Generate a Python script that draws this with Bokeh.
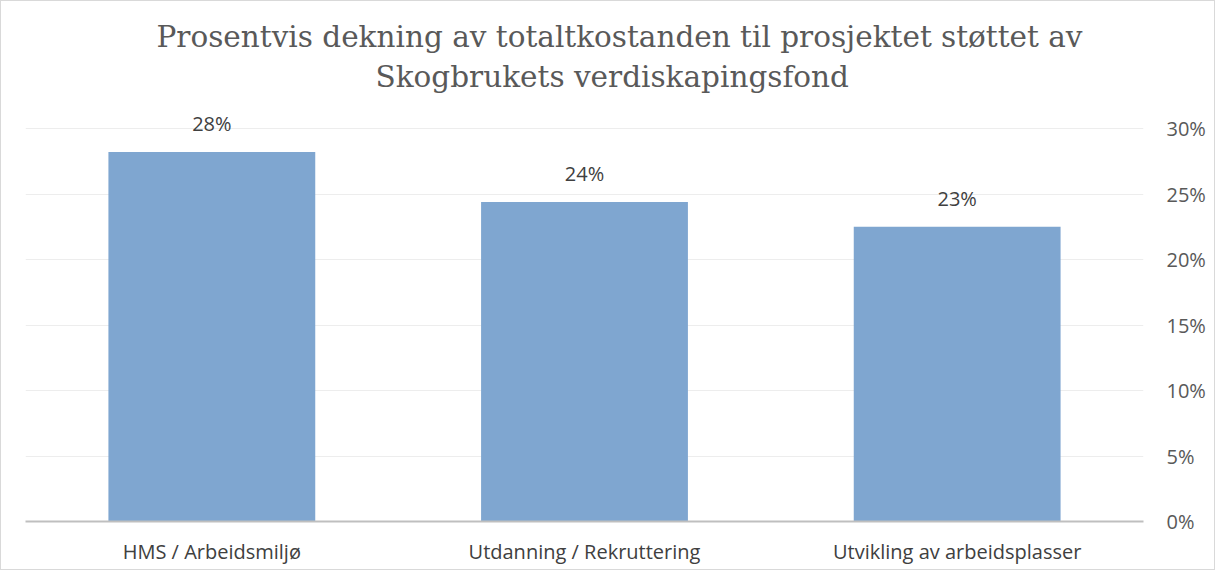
from bokeh.plotting import figure
from bokeh.models import ColumnDataSource, LabelSet, LinearAxis, NumeralTickFormatter, Title, FixedTicker, Range1d
from bokeh.core.properties import value
from bokeh.embed import file_html
from bokeh.resources import INLINE

categories = ["HMS / Arbeidsmiljø", "Utdanning / Rekruttering", "Utvikling av arbeidsplasser"]
values = [0.282, 0.244, 0.225]
labels = ["28%", "24%", "23%"]
y_ticks = [0, 0.05, 0.10, 0.15, 0.20, 0.25, 0.30]
title_lines = ["Prosentvis dekning av totaltkostanden til prosjektet støttet av",
               "Skogbrukets verdiskapingsfond"]

src = ColumnDataSource(dict(cat=categories, val=values, lab=labels))

p = figure(x_range=categories, y_range=Range1d(0, 0.3237), width=1215, height=570,
           output_backend="svg", toolbar_location=None, title=None,
           min_border_left=24, min_border_right=73, min_border_top=96, min_border_bottom=50,
           y_axis_location=None)
p.outline_line_color = None
p.background_fill_color = "white"
p.border_fill_color = "white"
p.styles = {"border": "1px solid #D9D9D9"}

p.vbar(x="cat", top="val", width=0.555, source=src, color="#7FA6D0", line_color=None)

ax = LinearAxis(ticker=FixedTicker(ticks=y_ticks), formatter=NumeralTickFormatter(format="0%"))
ax.axis_line_color = None
ax.major_tick_line_color = None
ax.minor_tick_line_color = None
ax.major_label_text_font = "Open Sans"
ax.major_label_text_font_size = "20px"
ax.major_label_text_color = "#595959"
ax.major_label_standoff = 17
p.add_layout(ax, "right")

p.ygrid.ticker = FixedTicker(ticks=y_ticks)
p.ygrid.grid_line_color = "#EDEDED"
p.xgrid.grid_line_color = None

xa = p.xaxis[0]
xa.axis_line_color = "#BFBFBF"
xa.axis_line_width = 2
xa.major_tick_line_color = None
xa.minor_tick_line_color = None
xa.major_label_text_font = "Open Sans"
xa.major_label_text_font_size = "20px"
xa.major_label_text_color = "#404040"
xa.major_label_standoff = 10

ls = LabelSet(x="cat", y="val", text="lab", source=src, text_align="center",
              text_baseline="bottom", y_offset=15, text_font=value("Open Sans"),
              text_font_size=value("20px"), text_color="#404040")
p.add_layout(ls)

t2 = Title(text=title_lines[1], align="left", offset=350, text_font="DejaVu Serif",
           text_font_size="29.5px", text_font_style="normal", text_color="#595959", standoff=8)
t1 = Title(text=title_lines[0], align="left", offset=131, text_font="DejaVu Serif",
           text_font_size="29.5px", text_font_style="normal", text_color="#595959", standoff=0)
p.add_layout(t2, "above")
p.add_layout(t1, "above")

open("out.html", "w").write(file_html(p, INLINE))
